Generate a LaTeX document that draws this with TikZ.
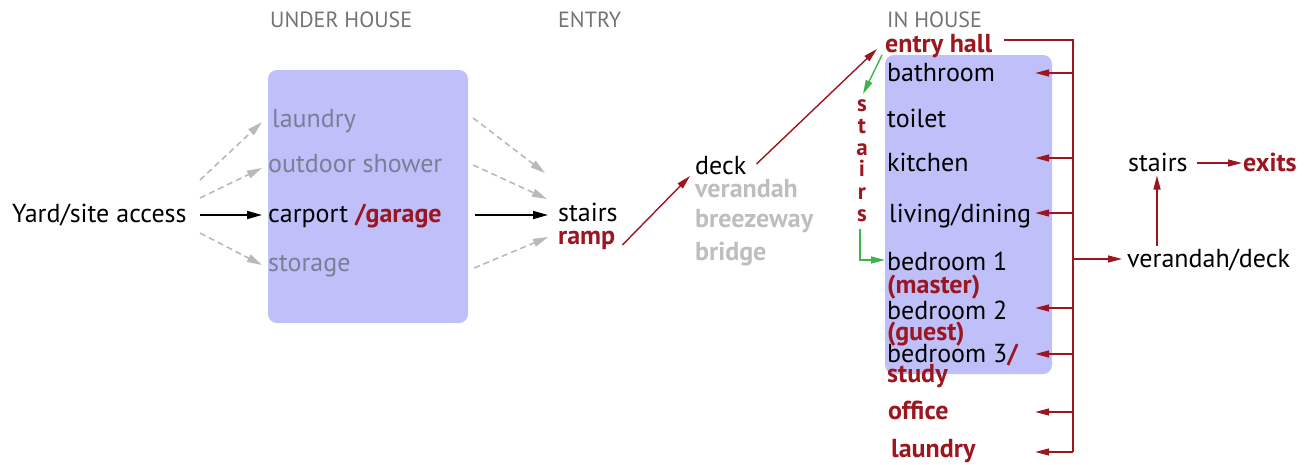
\documentclass[tikz,border=0pt]{standalone}
\usepackage{fontspec}
\setmainfont{PT Sans}
\usetikzlibrary{arrows.meta}
\definecolor{dred}{RGB}{155,22,30}
\definecolor{boxc}{RGB}{191,192,250}
\definecolor{ingray}{RGB}{125,125,150}
\definecolor{ltgray}{RGB}{190,190,190}
\definecolor{dashgray}{RGB}{185,185,185}
\definecolor{hdgray}{RGB}{115,115,115}
\definecolor{grn}{RGB}{60,180,75}
\begin{document}
\begin{tikzpicture}[x=1pt,y=-1pt,
  txt/.style={anchor=base west,inner sep=0pt,yshift=-8.5pt,font=\fontsize{26}{30}\selectfont},
  rtxt/.style={txt,text=dred,font=\fontsize{26}{30}\selectfont\bfseries},
  gtxt/.style={txt,text=ingray},
  lgtxt/.style={txt,text=ltgray,font=\fontsize{26}{30}\selectfont\bfseries},
  hdr/.style={anchor=base west,inner sep=0pt,text=hdgray,font=\fontsize{22}{26}\selectfont},
  housebox/.style={fill=boxc,rounded corners=9pt,inner sep=0pt},
  darr/.style={draw=dashgray,line width=1.6pt,dash pattern=on 6pt off 4pt,-{Triangle[length=15pt,width=8pt]}},
  barr/.style={draw=black,line width=1.6pt,-{Triangle[length=15pt,width=8pt]}},
  rarr/.style={draw=dred,line width=1.4pt,-{Triangle[length=14pt,width=7pt]}},
  rline/.style={draw=dred,line width=1.4pt},
  garr/.style={draw=grn,line width=1.4pt,-{Triangle[length=14pt,width=7pt]}},
  vl/.style={anchor=base,inner sep=0pt,yshift=-8pt,text=dred,font=\fontsize{23}{26}\selectfont\bfseries}
]
\useasboundingbox (0,0) rectangle (1315,464);
% boxes
\node[housebox,minimum width=200pt,minimum height=253pt] (ubox) at (368,196.5) {};
\node[housebox,minimum width=167pt,minimum height=319pt] (ibox) at (968.5,214.5) {};
% headers
\node[hdr] (h1) at (270,27) {UNDER HOUSE};
\node[hdr] (h2) at (558,27) {ENTRY};
\node[hdr] (h3) at (887,27) {IN HOUSE};
% left column
\node[txt] (yard) at (12,214) {Yard/site access};
\node[gtxt] (laun1) at (272,119) {laundry};
\node[gtxt] (shower) at (268,164) {outdoor shower};
\node[txt] (carport) at (268,214) {carport \textcolor{dred}{\bfseries/garage}};
\node[gtxt] (storage) at (268,263) {storage};
% entry
\node[txt] (stairs) at (558,213) {stairs};
\node[rtxt] (ramp) at (558,236) {ramp};
\node[txt] (deck) at (695,166) {deck};
\node[lgtxt] (veran) at (695,189) {verandah};
\node[lgtxt] (breeze) at (695,219) {breezeway};
\node[lgtxt] (bridge) at (695,252) {bridge};
% in house
\node[rtxt] (hall) at (885,44) {entry hall};
\node[txt] (bath) at (887,73) {bathroom};
\node[txt] (toilet) at (887,119) {toilet};
\node[txt] (kitchen) at (887,163) {kitchen};
\node[txt] (living) at (889,214) {living/dining};
\node[txt] (bed1) at (887,262) {bedroom 1};
\node[rtxt] (master) at (887,285) {(master)};
\node[txt] (bed2) at (887,311) {bedroom 2};
\node[rtxt] (guest) at (887,332) {(guest)};
\node[txt] (bed3) at (887,354) {bedroom 3\textcolor{dred}{\bfseries/}};
\node[rtxt] (study) at (887,374) {study};
\node[rtxt] (office) at (888,411) {office};
\node[rtxt] (laun2) at (891,449) {laundry};
% vertical stairs
\node[vl] (s1) at (862,103) {s};
\node[vl] (s2) at (862,125) {t};
\node[vl] (s3) at (862,147) {a};
\node[vl] (s4) at (862,168) {i};
\node[vl] (s5) at (862,191) {r};
\node[vl] (s6) at (862,213) {s};
% right
\node[txt] (stairs2) at (1128,163) {stairs};
\node[rtxt] (exits) at (1243,163) {exits};
\node[txt] (vdeck) at (1127,259) {verandah/deck};
% bracket coordinates
\coordinate (top) at (1073,40);
\coordinate (bot) at (1073,452);
% left fan
\coordinate (ys1) at (200,180);
\coordinate (ys2) at (200,198);
\coordinate (ys3) at (200,215);
\coordinate (ys4) at (200,233);
\draw[darr] (ys1) -- ([shift={(-10,-5.5)}]laun1.base west);
\draw[darr] (ys2) -- ([shift={(-6,-4.5)}]shower.base west);
\draw[barr] (ys3) -- ([shift={(-6,-7.5)}]carport.base west);
\draw[darr] (ys4) -- ([shift={(-6,-6.5)}]storage.base west);
% right fan
\draw[darr] ([shift={(5,-78.5)}]ubox.east) -- ([shift={(-13,-48.5)}]stairs.base west);
\draw[darr] ([shift={(5,-31.5)}]ubox.east) -- ([shift={(-11,-22.5)}]stairs.base west);
\draw[barr] ([shift={(7,18.5)}]ubox.east) -- ([shift={(-10,-6.5)}]stairs.base west);
\draw[darr] ([shift={(6,71.5)}]ubox.east) -- ([shift={(-10,15.5)}]stairs.base west);
% entry arrows
\draw[rarr] ([shift={(7,0.5)}]ramp.base east) -- ([shift={(-5,1.5)}]deck.base west);
\draw[rarr] ([shift={(10,-10.5)}]deck.base east) -- ([shift={(-8,-3.5)}]hall.base west);
% green stairs
\draw[garr] ([shift={(-3,2.5)}]hall.base west) -- ([shift={(1,-17)}]s1.base);
\draw[garr] ([shift={(-2,8)}]s6.base) |- ([shift={(-2,-10.5)}]bed1.base west);
% bracket
\draw[rline] ([shift={(12,-12.5)}]hall.base east) -- (top) -- (bot);
\foreach \yy in {73,158,213,308,354,412,452}{
  \draw[rarr] (top |- 0,\yy) -- ([xshift=-17pt]ibox.east |- 0,\yy);
}
\draw[rarr] (top |- 0,259) -- ([shift={(-5,-8.5)}]vdeck.base west);
\draw[rarr] ([yshift=22pt]vdeck.base west -| 1157,0) -- ([yshift=-4pt]stairs2.base west -| 1157,0);
\draw[rarr] ([shift={(9,-8.5)}]stairs2.base east) -- ([shift={(-1,-8.5)}]exits.base west);
\end{tikzpicture}
\end{document}
